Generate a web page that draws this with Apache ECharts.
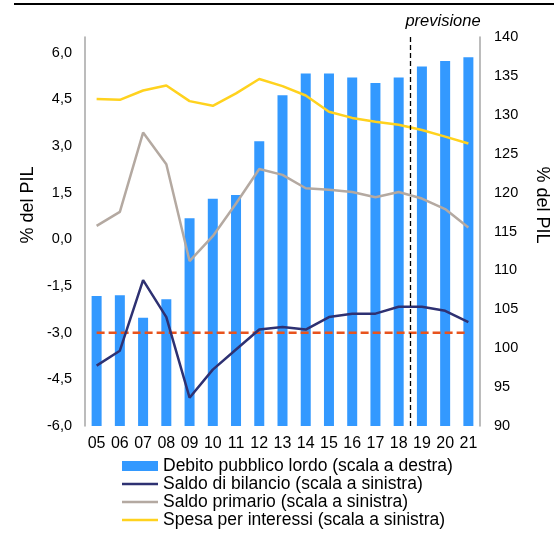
<!DOCTYPE html>
<html>
<head>
<meta charset="utf-8">
<script src="https://cdn.jsdelivr.net/npm/echarts@6/dist/echarts.min.js"></script>
<style>html,body{margin:0;padding:0;background:#fff;}#c{width:554px;height:533px;}</style>
</head>
<body>
<div id="c"></div>
<script>
var anni = ['05','06','07','08','09','10','11','12','13','14','15','16','17','18','19','20','21'];
var debito = [106.7,106.8,103.9,106.3,116.7,119.2,119.7,126.6,132.5,135.3,135.3,134.8,134.1,134.8,136.2,136.9,137.4];
var saldoBilancio = [-4.06,-3.58,-1.31,-2.50,-5.09,-4.19,-3.54,-2.90,-2.82,-2.90,-2.50,-2.39,-2.39,-2.17,-2.17,-2.30,-2.66];
var saldoPrimario = [0.43,0.88,3.43,2.41,-0.70,0.10,1.15,2.26,2.07,1.64,1.59,1.52,1.35,1.52,1.31,0.97,0.38];
var spesaInteressi = [4.51,4.48,4.78,4.94,4.44,4.29,4.69,5.15,4.92,4.62,4.10,3.90,3.78,3.68,3.51,3.30,3.08];
var soglia = [-3,-3,-3,-3,-3,-3,-3,-3,-3,-3,-3,-3,-3,-3,-3,-3,-3];
var inizioPrevisione = 14; // boundary between '18' and '19'

var FONT = 'Liberation Sans, Arial, sans-serif';
var LINE_ICON = 'path://M0,0H36V2.5H0Z';
var chart = echarts.init(document.getElementById('c'));
chart.setOption({
  animation: false,
  textStyle: {fontFamily: FONT},
  grid: {left: 85, right: 74, top: 37, bottom: 107, containLabel: false},
  xAxis: [{
    type: 'category', data: anni,
    axisLine: {show: false}, axisTick: {show: false},
    axisLabel: {color: '#000', fontSize: 16, margin: 10, interval: 0, hideOverlap: false, fontFamily: FONT}
  }, {
    type: 'value', min: 0, max: anni.length, show: false
  }],
  yAxis: [{
    type: 'value', min: -6, max: 6.5, interval: 1.5,
    axisLine: {show: true, lineStyle: {color: '#A6A6A6', width: 1.5}},
    axisTick: {show: false}, splitLine: {show: false},
    axisLabel: {color: '#000', fontSize: 14.5, margin: 13, fontFamily: FONT,
      formatter: function (v) { return v > 6.01 ? '' : v.toFixed(1).replace('.', ','); }}
  }, {
    type: 'value', min: 90, max: 140, interval: 5, position: 'right',
    axisLine: {show: true, lineStyle: {color: '#A6A6A6', width: 1.5}},
    axisTick: {show: false}, splitLine: {show: false},
    axisLabel: {color: '#000', fontSize: 14.5, margin: 14, fontFamily: FONT}
  }],
  legend: {
    orient: 'vertical', left: 122, top: 457, padding: 0,
    itemWidth: 36, itemHeight: 10, itemGap: 0,
    textStyle: {color: '#000', fontSize: 17.5, lineHeight: 18, fontFamily: FONT},
    data: [
      {name: 'Debito pubblico lordo (scala a destra)', icon: 'rect'},
      {name: 'Saldo di bilancio (scala a sinistra)', icon: LINE_ICON},
      {name: 'Saldo primario (scala a sinistra)', icon: LINE_ICON},
      {name: 'Spesa per interessi (scala a sinistra)', icon: LINE_ICON}
    ]
  },
  series: [{
    name: 'Debito pubblico lordo (scala a destra)', type: 'bar',
    yAxisIndex: 1, data: debito, barWidth: 10,
    itemStyle: {color: '#3399FF'}
  }, {
    name: 'Soglia', type: 'line', data: soglia, symbol: 'none',
    lineStyle: {color: '#E8531D', width: 2.5, type: [8, 4]}, z: 3
  }, {
    name: 'Saldo di bilancio (scala a sinistra)', type: 'line', data: saldoBilancio,
    symbol: 'none', lineStyle: {color: '#2E3172', width: 2.5}, itemStyle: {color: '#2E3172'}, z: 4
  }, {
    name: 'Saldo primario (scala a sinistra)', type: 'line', data: saldoPrimario,
    symbol: 'none', lineStyle: {color: '#B4A9A1', width: 2.5}, itemStyle: {color: '#B4A9A1'}, z: 4
  }, {
    name: 'Spesa per interessi (scala a sinistra)', type: 'line', data: spesaInteressi,
    symbol: 'none', lineStyle: {color: '#FFD21E', width: 2.5}, itemStyle: {color: '#FFD21E'}, z: 4
  }, {
    name: 'Previsione', type: 'line', xAxisIndex: 1, yAxisIndex: 0,
    data: [], symbol: 'none', silent: true,
    markLine: {
      silent: true, symbol: 'none', animation: false,
      label: {show: false},
      lineStyle: {color: '#000', width: 1.3, type: [5, 3]},
      data: [{xAxis: inizioPrevisione}]
    }
  }],
  graphic: [{
    type: 'line', shape: {x1: 14, y1: 4, x2: 554, y2: 4},
    style: {stroke: '#000', lineWidth: 2}
  }, {
    type: 'text', x: 443, y: 21,
    style: {text: 'previsione', fontSize: 16.5, fontStyle: 'italic', fontFamily: FONT,
      fill: '#000', textAlign: 'center', textVerticalAlign: 'middle'}
  }, {
    type: 'text', x: 28, y: 205, rotation: Math.PI / 2,
    style: {text: '% del PIL', fontSize: 18, fontFamily: FONT, fill: '#000',
      textAlign: 'center', textVerticalAlign: 'middle'}
  }, {
    type: 'text', x: 542, y: 205, rotation: -Math.PI / 2,
    style: {text: '% del PIL', fontSize: 18, fontFamily: FONT, fill: '#000',
      textAlign: 'center', textVerticalAlign: 'middle'}
  }]
});
</script>
</body>
</html>
